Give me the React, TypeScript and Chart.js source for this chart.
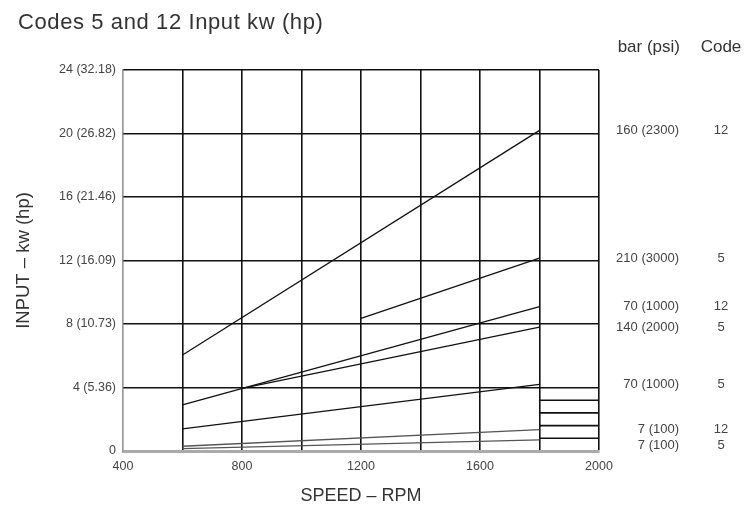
import React, { useEffect, useRef } from "react";
import { Chart, registerables } from "chart.js";

Chart.register(...registerables);

// Series: speed (RPM) start/end and input kW at those speeds
const seriesSpeed: number[][] = [
  [600, 1800],
  [1200, 1800],
  [600, 1800],
  [800, 1800],
  [600, 1800],
  [600, 1800],
  [600, 1800],
];
const seriesKw: number[][] = [
  [6.05, 20.2],
  [8.35, 12.15],
  [2.9, 9.1],
  [3.95, 7.8],
  [1.4, 4.2],
  [0.3, 1.35],
  [0.15, 0.7],
];
const pressureLabels = ["160 (2300)", "210 (3000)", "70 (1000)", "140 (2000)", "70 (1000)", "7 (100)", "7 (100)"];
const codeLabels = ["12", "5", "12", "5", "5", "12", "5"];

const minorKw = [0.8, 1.6, 2.4, 3.2];
const minorSpeed = [1800, 2000];

const yTickValues = [0, 4, 8, 12, 16, 20, 24];
const yTickLabels = ["0", "4 (5.36)", "8 (10.73)", "12 (16.09)", "16 (21.46)", "20 (26.82)", "24 (32.18)"];
const xLabelValues = [400, 800, 1200, 1600, 2000];

const titleText = "Codes 5 and 12 Input kw (hp)";
const xTitle = "SPEED \u2013 RPM";
const yTitle = "INPUT \u2013 kw (hp)";
const headerPressure = "bar (psi)";
const headerCode = "Code";

const FONT = "'Liberation Sans', Arial, Helvetica, sans-serif";
const TEXT = "#333";
const TICK = "#444";

const annotationsPlugin = {
  id: "annotations",
  afterDraw(chart: any) {
    const { ctx, chartArea, scales } = chart;
    const y = scales.y;
    ctx.save();
    ctx.fillStyle = TEXT;
    ctx.textBaseline = "middle";
    // title
    ctx.font = `22px ${FONT}`;
    ctx.textAlign = "left";
    (ctx as any).letterSpacing = "0.6px";
    ctx.fillText(titleText, 18, 23);
    (ctx as any).letterSpacing = "0px";
    // headers
    ctx.font = `17px ${FONT}`;
    ctx.textAlign = "right";
    ctx.fillText(headerPressure, chartArea.right + 81, 47);
    ctx.textAlign = "center";
    ctx.fillText(headerCode, chartArea.right + 122, 47);
    // labels at line ends, pushed apart if too close
    const items = seriesKw.map((s, i) => ({ i, py: y.getPixelForValue(s[s.length - 1]) }));
    items.sort((a, b) => a.py - b.py);
    for (let k = 1; k < items.length; k++) {
      if (items[k].py - items[k - 1].py < 16) items[k].py = items[k - 1].py + 16;
    }
    ctx.fillStyle = TICK;
    ctx.font = `13px ${FONT}`;
    items.forEach(({ i, py }) => {
      ctx.textAlign = "right";
      ctx.fillText(pressureLabels[i], chartArea.right + 80, py);
      ctx.textAlign = "center";
      ctx.fillText(codeLabels[i], chartArea.right + 122, py);
    });
    ctx.restore();
  },
};

export default function App() {
  const ref = useRef<HTMLCanvasElement | null>(null);
  useEffect(() => {
    if (!ref.current) return;
    const datasets: any[] = seriesKw.map((kw, i) => ({
      label: pressureLabels[i] + " code " + codeLabels[i],
      data: kw.map((v, j) => ({ x: seriesSpeed[i][j], y: v })),
      borderColor: i >= 5 ? "#555" : "#111",
      borderWidth: 1.3,
      pointRadius: 0,
      fill: false,
      tension: 0,
    }));
    minorKw.forEach((v) => {
      datasets.push({
        label: "minor " + v,
        data: minorSpeed.map((s) => ({ x: s, y: v })),
        borderColor: "#111",
        borderWidth: 1.6,
        pointRadius: 0,
        fill: false,
      });
    });
    const chart = new Chart(ref.current, {
      type: "line",
      data: { datasets },
      plugins: [annotationsPlugin],
      options: {
        animation: false,
        responsive: true,
        maintainAspectRatio: false,
        layout: { padding: { top: 70, right: 147, bottom: 0, left: 0 } },
        plugins: { legend: { display: false }, tooltip: { enabled: false }, title: { display: false } },
        scales: {
          x: {
            type: "linear",
            min: 400,
            max: 2000,
            afterFit: (s: any) => {
              s.height = 61;
            },
            border: { color: "#aaa", width: 3 },
            grid: {
              drawTicks: false,
              color: (c: any) => (c.tick && c.tick.value === 400 ? "#999" : "#111"),
              lineWidth: 1.6,
            },
            ticks: {
              stepSize: 200,
              autoSkip: false,
              maxRotation: 0,
              padding: 8,
              color: TICK,
              font: { family: FONT, size: 12.5 },
              callback: (v: any) => (xLabelValues.includes(Number(v)) ? String(v) : ""),
            },
            title: { display: true, text: xTitle, color: TEXT, font: { family: FONT, size: 18 }, padding: { top: 10, bottom: 5 } },
          },
          y: {
            type: "linear",
            min: 0,
            max: 24,
            afterFit: (s: any) => {
              s.width = 123;
            },
            afterBuildTicks: (s: any) => {
              s.ticks = yTickValues.map((v) => ({ value: v }));
            },
            border: { color: "#999", width: 1.2 },
            grid: {
              drawTicks: false,
              color: (c: any) => (c.tick && c.tick.value === 0 ? "#aaa" : "#111"),
              lineWidth: (c: any) => (c.tick && c.tick.value === 0 ? 3 : 1.6),
            },
            ticks: {
              padding: 7,
              color: TICK,
              font: { family: FONT, size: 12.5 },
              callback: (v: any) => {
                const idx = yTickValues.indexOf(Number(v));
                return idx >= 0 ? yTickLabels[idx] : "";
              },
            },
            title: { display: true, text: yTitle, color: TEXT, font: { family: FONT, size: 18.5 }, padding: { top: 13, bottom: 0 } },
          },
        },
      },
    });
    return () => chart.destroy();
  }, []);
  return (
    <div style={{ position: "fixed", left: 0, top: 0, width: 746, height: 512, background: "#fff" }}>
      <canvas ref={ref} />
    </div>
  );
}
